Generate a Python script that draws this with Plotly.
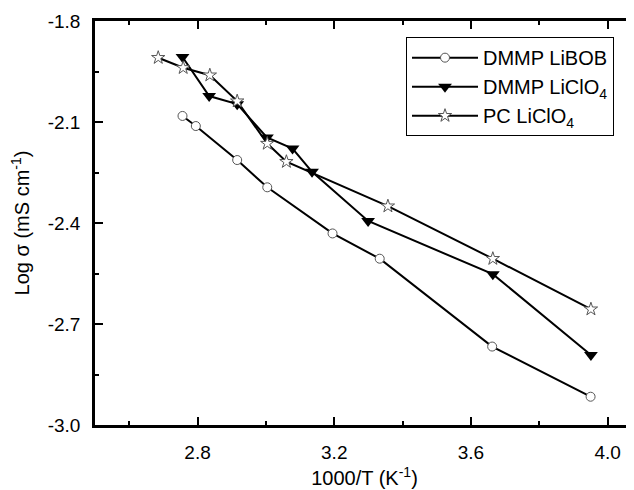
import plotly.graph_objects as go

# DMMP LiBOB
bob_x = [2.756, 2.795, 2.916, 3.004, 3.195, 3.333, 3.662, 3.950]
bob_y = [-2.082, -2.112, -2.213, -2.294, -2.431, -2.506, -2.767, -2.916]

# DMMP LiClO4
dmmp_x = [2.756, 2.834, 2.916, 3.003, 3.078, 3.135, 3.299, 3.664, 3.951]
dmmp_y = [-1.907, -2.023, -2.047, -2.146, -2.179, -2.248, -2.394, -2.552, -2.792]

# PC LiClO4
pc_x = [2.685, 2.758, 2.836, 2.916, 3.004, 3.060, 3.357, 3.664, 3.951]
pc_y = [-1.909, -1.939, -1.961, -2.038, -2.164, -2.218, -2.350, -2.506, -2.656]

x_ticks = [2.8, 3.2, 3.6, 4.0]
x_ticktext = ["2.8", "3.2", "3.6", "4.0"]
y_ticks = [-1.8, -2.1, -2.4, -2.7, -3.0]
y_ticktext = ["-1.8", "-2.1", "-2.4", "-2.7", "-3.0"]

FONT = "Arial, Liberation Sans, sans-serif"

fig = go.Figure()

fig.add_trace(go.Scatter(
    x=bob_x, y=bob_y, mode="lines+markers", name="DMMP LiBOB",
    line=dict(color="black", width=2),
    marker=dict(symbol="circle", size=9, color="white",
                line=dict(color="#555555", width=1)),
))
fig.add_trace(go.Scatter(
    x=dmmp_x, y=dmmp_y, mode="lines+markers", name="DMMP LiClO<sub>4</sub>",
    line=dict(color="black", width=2),
    marker=dict(symbol="triangle-down", size=12, color="black",
                line=dict(color="black", width=0)),
))
fig.add_trace(go.Scatter(
    x=pc_x, y=pc_y, mode="lines+markers", name="PC LiClO<sub>4</sub>",
    line=dict(color="black", width=2),
    marker=dict(symbol="star", size=10, color="white",
                line=dict(color="#555555", width=1)),
))

axis_common = dict(
    showline=True, linecolor="black", linewidth=2.5,
    ticks="inside", ticklen=8, tickwidth=2, tickcolor="black",
    showgrid=False, zeroline=False,
    tickfont=dict(family=FONT, size=19, color="black"),
    ticklabelstandoff=8,
)

fig.update_xaxes(
    range=[2.5, 4.077], tickvals=x_ticks, ticktext=x_ticktext,
    mirror="ticks",
    minor=dict(ticks="inside", ticklen=4, tickwidth=2, tickcolor="black",
               tickvals=[2.6, 3.0, 3.4, 3.8]),
    title=dict(text="1000/T (K<sup>-1</sup>)", font=dict(family=FONT, size=20, color="black"),
               standoff=10),
    **axis_common,
)
fig.update_yaxes(
    range=[-3.0, -1.8], tickvals=y_ticks, ticktext=y_ticktext,
    minor=dict(ticks="inside", ticklen=4, tickwidth=2, tickcolor="black",
               tickvals=[-1.95, -2.25, -2.55, -2.85]),
    title=dict(text="Log σ (mS cm<sup>-1</sup>)", font=dict(family=FONT, size=20, color="black"),
               standoff=14),
    **axis_common,
)

# page body adds an 8px offset, so the figure is 626x482
fig.update_layout(
    width=626, height=482,
    paper_bgcolor="white", plot_bgcolor="white",
    margin=dict(l=87, r=0, t=13, b=65, autoexpand=False),
    font=dict(family=FONT, size=19, color="black"),
    legend=dict(
        x=0.577, y=0.96, xanchor="left", yanchor="top",
        bordercolor="black", borderwidth=1, bgcolor="white",
        font=dict(family=FONT, size=20, color="black"),
        itemwidth=66, tracegroupgap=0,
    ),
)

fig.write_html("out.html")
